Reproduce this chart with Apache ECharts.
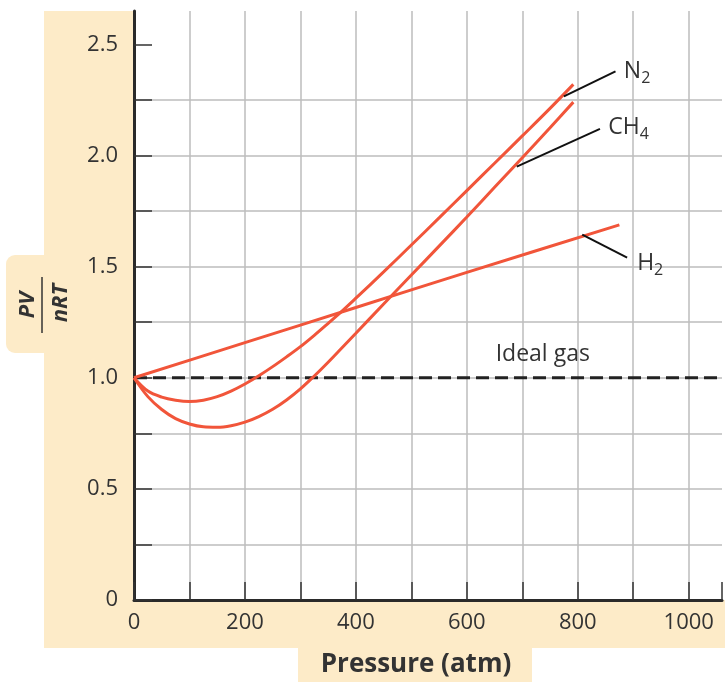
<!DOCTYPE html>
<html><head><meta charset="utf-8">
<script src="https://cdn.jsdelivr.net/npm/echarts@6/dist/echarts.min.js"></script>
<style>html,body{margin:0;padding:0;background:#fff}#c{width:725px;height:682px}</style>
</head><body><div id="c"></div>
<script>
// ---- data ----
const xTickLabels = [0, 200, 400, 600, 800, 1000];
const yTickLabels = [0, 0.5, 1.0, 1.5, 2.0, 2.5];
const yTickValues = [0, 0.25, 0.5, 0.75, 1.0, 1.25, 1.5, 1.75, 2.0, 2.25, 2.5];

const n2Pressure = [0, 25, 50, 75, 100, 125, 150, 175, 200, 225, 250, 275, 300, 325, 350, 375, 400, 450, 500, 550, 600, 650, 700, 750, 792];
const n2Values   = [1.0, 0.94, 0.913, 0.899, 0.893, 0.899, 0.915, 0.94, 0.972, 1.009, 1.05, 1.094, 1.14, 1.191, 1.245, 1.3, 1.358, 1.476, 1.597, 1.719, 1.842, 1.965, 2.088, 2.212, 2.32];

const ch4Pressure = [0, 25, 50, 75, 100, 125, 150, 175, 200, 225, 250, 275, 300, 325, 350, 375, 400, 450, 500, 550, 600, 650, 700, 750, 792];
const ch4Values   = [1.0, 0.915, 0.857, 0.816, 0.792, 0.779, 0.777, 0.784, 0.80, 0.825, 0.858, 0.9, 0.95, 1.008, 1.07, 1.135, 1.2, 1.332, 1.462, 1.592, 1.723, 1.857, 1.99, 2.125, 2.24];

const h2Pressure = [0, 200, 400, 600, 875];
const h2Values   = [1.0, 1.158, 1.316, 1.474, 1.688];

const idealPressure = [0, 1060];
const idealValues   = [1.0, 1.0];

const seriesNames = ['N₂', 'CH₄', 'H₂', 'Ideal gas'];

// ---- annotations (data coordinates) ----
const annotations = [
  { main: 'N', sub: '2', leader: [[775, 2.266], [868, 2.378]], at: [883, 2.38] },
  { main: 'CH', sub: '4', leader: [[690, 1.95], [840, 2.12]], at: [855, 2.128] },
  { main: 'H', sub: '2', leader: [[808, 1.644], [889, 1.54]], at: [907, 1.513] }
];
const idealLabelAt = [652, 1.104];

const FONT = '"Open Sans", "Noto Sans", sans-serif';
const RED = '#F1553A';
const INK = '#333333';
const BEIGE = '#FDEBC8';

const zip = (a, b) => a.map((v, i) => [v, b[i]]);

const chart = echarts.init(document.getElementById('c'), null, { renderer: 'canvas' });

const curveStyle = { color: RED, width: 3 };

chart.setOption({
  animation: false,
  backgroundColor: '#fff',
  grid: { left: 134, top: 11, right: 0, bottom: 82, show: true, backgroundColor: '#fff', borderWidth: 0 },
  xAxis: {
    type: 'value', min: 0, max: 1060, interval: 100,
    axisLine: { show: true, onZero: false, lineStyle: { color: '#2a2a2a', width: 3 } },
    axisTick: { show: true, inside: true, length: 18, lineStyle: { color: INK, width: 1.5 } },
    splitLine: { show: true, showMaxLine: false, lineStyle: { color: '#bcbcbc', width: 1.5 } },
    axisLabel: {
      fontSize: 22, fontFamily: FONT, color: INK, margin: 12,
      formatter: v => xTickLabels.includes(v) ? String(v) : ''
    }
  },
  yAxis: {
    type: 'value', min: 0, max: 2.65, interval: 0.25,
    axisLine: { show: true, onZero: false, lineStyle: { color: '#2a2a2a', width: 3 } },
    axisTick: { show: true, inside: true, length: 18, customValues: yTickValues, lineStyle: { color: INK, width: 1.5 } },
    splitLine: { show: true, showMaxLine: false, lineStyle: { color: '#bcbcbc', width: 1.5 } },
    axisLabel: {
      fontSize: 22, fontFamily: FONT, color: INK, margin: 16,
      customValues: yTickLabels,
      formatter: v => {
        const hit = yTickLabels.find(t => Math.abs(t - v) < 1e-6);
        if (hit === undefined) return '';
        return hit === 0 ? '0' : hit.toFixed(1);
      }
    }
  },
  series: [
    { name: seriesNames[3], type: 'line', data: zip(idealPressure, idealValues), symbol: 'none',
      lineStyle: { color: '#222', width: 3, type: [13, 6] }, z: 3 },
    { name: seriesNames[0], type: 'line', data: zip(n2Pressure, n2Values), symbol: 'none', smooth: 0.35,
      lineStyle: curveStyle, z: 4 },
    { name: seriesNames[1], type: 'line', data: zip(ch4Pressure, ch4Values), symbol: 'none', smooth: 0.35,
      lineStyle: curveStyle, z: 4 },
    { name: seriesNames[2], type: 'line', data: zip(h2Pressure, h2Values), symbol: 'none', smooth: 0.3,
      lineStyle: curveStyle, z: 4 }
  ]
});

// ---- decorations and annotations ----
const px = p => chart.convertToPixel({ gridIndex: 0 }, p);
const origin = px([0, 0]);
const topLeft = px([0, 2.65]);
const ctx = document.createElement('canvas').getContext('2d');
function textWidth(t, size, weight) { ctx.font = (weight || '') + ' ' + size + 'px ' + FONT; return ctx.measureText(t).width; }

const graphics = [
  { type: 'rect', z: -10, shape: { x: 44, y: topLeft[1], width: origin[0] - 44, height: 648 - topLeft[1] }, style: { fill: BEIGE } },
  { type: 'rect', z: -10, shape: { x: 44, y: origin[1], width: 725 - 44, height: 648 - origin[1] }, style: { fill: BEIGE } },
  { type: 'rect', z: -10, shape: { x: 6, y: 255, width: 50, height: 98, r: [9, 0, 0, 9] }, style: { fill: BEIGE } },
  { type: 'rect', z: -10, shape: { x: 298, y: 647, width: 234, height: 35 }, style: { fill: BEIGE } },
  { type: 'text', x: 416, y: 665, style: { text: 'Pressure (atm)', fontSize: 26, fontWeight: 'bold', fontFamily: FONT, fill: INK, align: 'center', verticalAlign: 'middle' } },
  { type: 'text', x: 28, y: 305, rotation: Math.PI / 2, style: { text: 'PV', fontSize: 22, fontWeight: 'bold', fontStyle: 'italic', fontFamily: FONT, fill: INK, align: 'center', verticalAlign: 'middle' } },
  { type: 'text', x: 61, y: 303, rotation: Math.PI / 2, style: { text: 'nRT', fontSize: 22, fontWeight: 'bold', fontStyle: 'italic', fontFamily: FONT, fill: INK, align: 'center', verticalAlign: 'middle' } },
  { type: 'line', shape: { x1: 42, y1: 277, x2: 42, y2: 333 }, style: { stroke: INK, lineWidth: 1.5 } }
];

const il = px(idealLabelAt);
graphics.push({ type: 'text', x: il[0], y: il[1], z: 10, style: { text: 'Ideal gas', fontSize: 23, fontFamily: FONT, fill: INK, align: 'left', verticalAlign: 'middle' } });

annotations.forEach(a => {
  const p1 = px(a.leader[0]), p2 = px(a.leader[1]);
  graphics.push({ type: 'line', z: 10, shape: { x1: p1[0], y1: p1[1], x2: p2[0], y2: p2[1] }, style: { stroke: '#111', lineWidth: 2 } });
  const t = px(a.at);
  graphics.push({ type: 'text', x: t[0], y: t[1], z: 10, style: { text: a.main, fontSize: 23, fontFamily: FONT, fill: INK, align: 'left', verticalAlign: 'middle' } });
  const w = textWidth(a.main, 23);
  graphics.push({ type: 'text', x: t[0] + w, y: t[1] + 7, z: 10, style: { text: a.sub, fontSize: 16, fontFamily: FONT, fill: INK, align: 'left', verticalAlign: 'middle' } });
});

chart.setOption({ graphic: { elements: graphics } });
</script>
</body></html>
